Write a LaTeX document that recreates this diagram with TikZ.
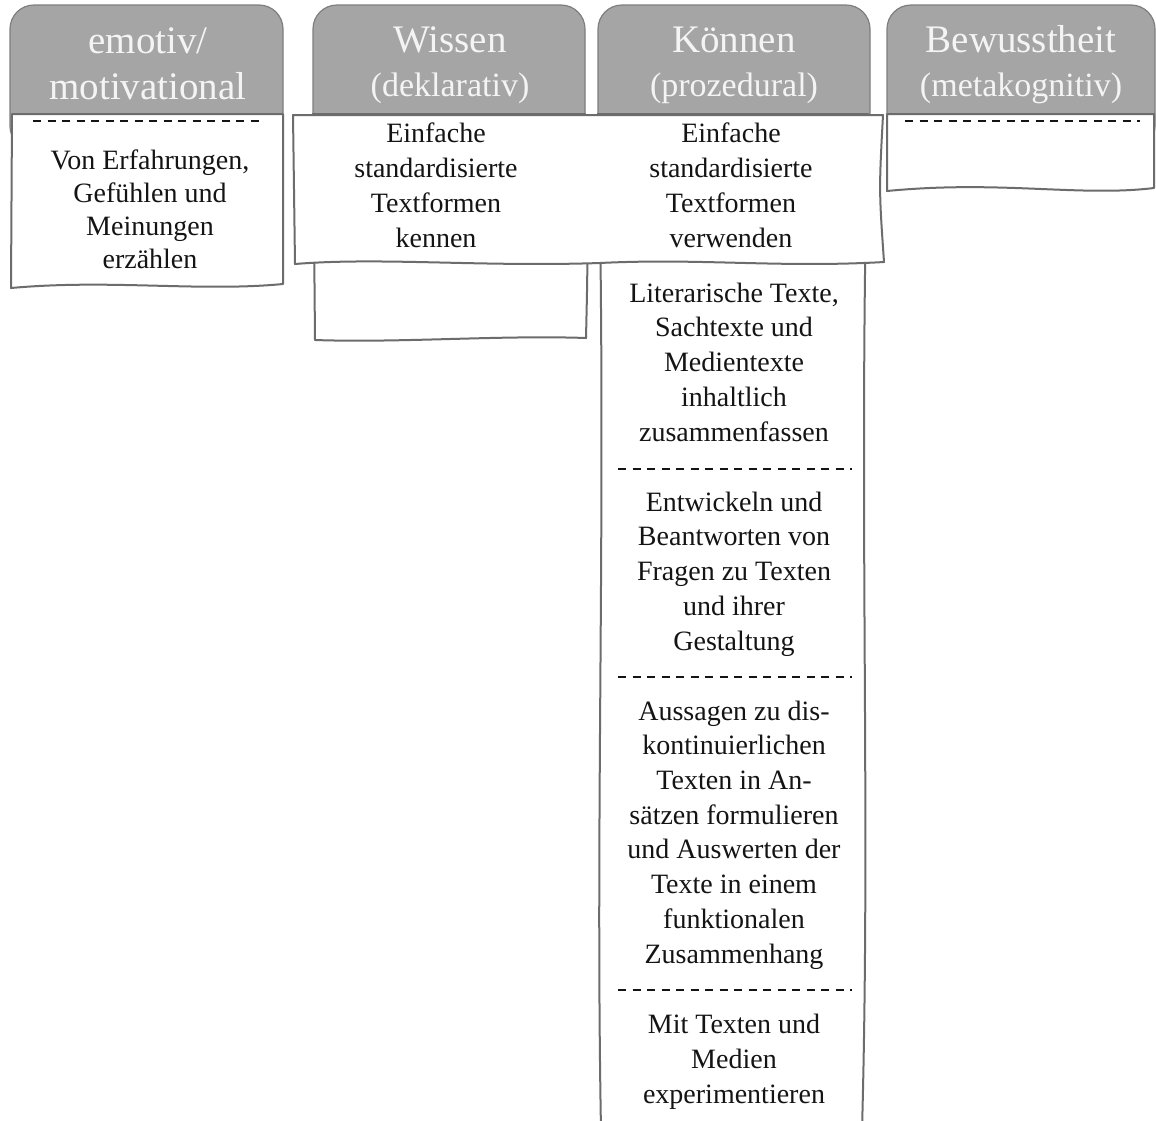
\documentclass[tikz,border=0pt]{standalone}
\usepackage{fontspec}
\setmainfont{Liberation Serif}
\usepackage{xcolor}
\usepackage{tikz}
\definecolor{kmA1}{HTML}{A5A5A5}
\definecolor{kmA2}{HTML}{7E7E7E}
\definecolor{kmA3}{HTML}{6C6C6C}
\definecolor{kmA4}{HTML}{141414}
\definecolor{kmA5}{HTML}{F4F4F4}
\begin{document}
\begin{tikzpicture}[x=1pt,y=-1pt,
  tab/.style={fill=kmA1,draw=kmA2,line width=1.2pt,rounded corners=24pt},
  sheet/.style={fill=white,draw=kmA3,line width=2pt,line join=round},
  sep/.style={draw=kmA4,line width=1.6pt,dash pattern=on 8pt off 6.5pt},
  head/.style={text=kmA5,align=center,font=\fontsize{39}{44}\selectfont,anchor=base,inner sep=0pt},
  cell/.style={text=kmA4,align=center,font=\fontsize{28}{34.7}\selectfont,anchor=base,inner sep=0pt}]
\clip (0,0) rectangle (1156,1120);
\fill[white] (0,0) rectangle (1156,1120);
\def\sm{\fontsize{34}{44}\selectfont}
\path[tab] (10,5) rectangle (283,150) (313,5) rectangle (585,150) (598,5) rectangle (870,150) (887,5) rectangle (1155,150);
\path[sheet] (12,114) -- (283,114) -- (283,284) .. controls (200,292) and (110,279) .. (11,288) -- cycle;
\path[sheet] (313,114) -- (585,114) .. controls (588,250) .. (586,338) .. controls (500,335) and (400,343) .. (315,340) -- cycle;
\path[sheet] (598,114) -- (868,114) .. controls (858,500) and (871,800) .. (862,1130) -- (601,1130) .. controls (595,800) and (607,500) .. cycle;
\path[sheet] (887,114) -- (1154,114) -- (1154,188) .. controls (1080,197) and (1000,180) .. (887,191) -- cycle;
\path[sheet] (293,115) -- (883,115) .. controls (879,190) .. (884,262) .. controls (780,268) and (700,258) .. (600,263) .. controls (480,267) and (380,257) .. (295,264) -- cycle;
\draw[sep] (33,121) -- (262,121);
\draw[sep] (905,121) -- (1140,121);
\foreach \y in {469,677,990} \draw[sep] (618,\y) -- (852,\y);
\node[head,font=\fontsize{39}{46}\selectfont] (hEmo) at (148,99) {emotiv/\\motivational};
\node[head] (hWis) at (450,96) {Wissen\\{\sm(deklarativ)}};
\node[head] (hKon) at (734,96) {Können\\{\sm(prozedural)}};
\node[head] (hBew) at (1021,96) {Bewusstheit\\{\sm(metakognitiv)}};
\node[cell,font=\fontsize{28}{33}\selectfont] (tEmo) at (150,268) {Von Erfahrungen,\\Gefühlen und\\Meinungen\\erzählen};
\node[cell] (tKen) at (436,247) {Einfache\\standardisierte\\Textformen\\kennen};
\node[cell] (tVer) at (731,247) {Einfache\\standardisierte\\Textformen\\verwenden};
\node[cell] (tLit) at (734,441) {Literarische Texte,\\Sachtexte und\\Medientexte\\inhaltlich\\zusammenfassen};
\node[cell] (tFra) at (734,650) {Entwickeln und\\Beantworten von\\Fragen zu Texten\\und ihrer\\Gestaltung};
\node[cell] (tDis) at (734,963) {Aussagen zu dis-\\kontinuierlichen\\Texten in An-\\sätzen formulieren\\und Auswerten der\\Texte in einem\\funktionalen\\Zusammenhang};
\node[cell] (tExp) at (734,1103) {Mit Texten und\\Medien\\experimentieren};
\end{tikzpicture}
\end{document}
